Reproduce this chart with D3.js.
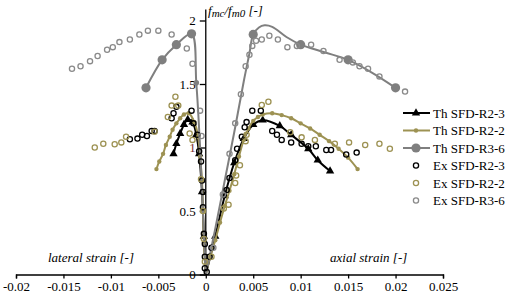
<!DOCTYPE html>
<html>
<head>
<meta charset="utf-8">
<script src="https://cdn.jsdelivr.net/npm/d3@7"></script>
<style>
  body { margin: 0; background: #fff; }
  svg { display: block; font-family: "Liberation Serif", "Times New Roman", serif; }
</style>
</head>
<body>
<div id="chart"></div>
<script>
// tick labels
const xTicks = [-0.02, -0.015, -0.01, -0.005, 0, 0.005, 0.01, 0.015, 0.02, 0.025];
const xTickLabels = ["-0.02", "-0.015", "-0.01", "-0.005", "0", "0.005", "0.01", "0.015", "0.02", "0.025"];
const yTicks = [0, 0.5, 1, 1.5, 2];
const yTickLabels = ["0", "0.5", "1", "1.5", "2"];

// Th SFD-R2-3 (black, triangles)
const thR23Axial = [[0,0],[0.001,0.3],[0.002,0.62],[0.003,0.88],[0.004,1.07],[0.005,1.18],[0.006,1.215],[0.0078,1.17],[0.009,1.1],[0.0108,0.99],[0.0118,0.9],[0.0131,0.815]];
const thR23Lateral = [[0,0],[-0.0002,0.3],[-0.0004,0.65],[-0.0007,0.95],[-0.001,1.1],[-0.0014,1.2],[-0.0019,1.22],[-0.0023,1.18],[-0.0027,1.11],[-0.0031,1.03],[-0.0034,0.95]];

// Th SFD-R2-2 (olive, small dots)
const thR22Axial = [[0,0],[0.0005,0.15],[0.001,0.27],[0.0015,0.41],[0.002,0.54],[0.0025,0.66],[0.003,0.79],[0.0035,0.93],[0.004,1.06],[0.0045,1.15],[0.005,1.21],[0.0055,1.24],[0.006,1.26],[0.007,1.27],[0.008,1.255],[0.009,1.23],[0.01,1.19],[0.011,1.15],[0.012,1.1],[0.013,1.05],[0.014,0.99],[0.015,0.92],[0.016,0.83]];
const thR22Lateral = [[0,0],[-0.0002,0.25],[-0.0003,0.5],[-0.0004,0.74],[-0.0006,0.93],[-0.0008,1.085],[-0.0012,1.2],[-0.0018,1.27],[-0.0023,1.26],[-0.0027,1.23],[-0.0031,1.19],[-0.0035,1.14],[-0.0038,1.085],[-0.0042,1.02],[-0.0045,0.95],[-0.0049,0.89],[-0.0052,0.83]];

// Th SFD-R3-6 (grey, big dots on a few points)
const thR36Axial = [[0,0],[0.001,0.36],[0.002,0.74],[0.003,1.12],[0.004,1.52],[0.0046,1.74],[0.005,1.89],[0.0056,1.945],[0.0062,1.962],[0.007,1.95],[0.0085,1.87],[0.01,1.81],[0.0125,1.75],[0.015,1.69],[0.0175,1.59],[0.02,1.47]];
const thR36AxialMarks = [[0.005,1.89],[0.01,1.81],[0.015,1.69],[0.02,1.47]];
const thR36Lateral = [[0,0],[-0.0003,0.5],[-0.0006,1.0],[-0.001,1.51],[-0.0015,1.895],[-0.0031,1.81],[-0.0046,1.69],[-0.0063,1.47]];
const thR36LateralMarks = [[-0.0015,1.895],[-0.0031,1.81],[-0.0046,1.69],[-0.0063,1.47]];
const thR36SmallMarks = [[-0.001,1.51]];

// Ex SFD-R2-3 (black open circles)
const exR23 = [[0.0001,0.02],[0.0004,0.14],[0.0006,0.21],[0.0022,0.665],[0.0025,0.76],[0.0031,0.9],[0.0033,0.99],[0.0038,1.085],[0.0041,1.16],[0.0043,1.2],[0.0049,1.29],[0.0058,1.29],[0.007,1.13],[0.0075,1.1],[0.008,1.06],[0.009,1.04],[0.0101,1.03],[0.0108,1.01],[0.0116,1.01],[0.0127,0.98],[0.0132,0.98],[0.0148,0.945],[0.0159,0.96],
  [-0.0001,0.05],[-0.0001,0.14],[-0.0001,0.24],[-0.0002,0.32],[-0.0003,0.53],[-0.0003,0.65],[-0.0004,0.74],[-0.0005,0.89],[-0.0007,0.97],[-0.0009,1.1],[-0.0013,1.19],[-0.0015,1.29],[-0.0031,1.32],[-0.0034,1.27],[-0.0036,1.23],[-0.0054,1.13],[-0.0057,1.13],[-0.0062,1.09],[-0.0067,1.1],[-0.0072,1.07],[-0.008,1.065]];

// Ex SFD-R2-2 (olive open circles)
const exR22 = [[0.0006,0.14],[0.0019,0.52],[0.0024,0.55],[0.0031,0.72],[0.0032,0.78],[0.0036,0.86],[0.0042,1.05],[0.0043,1.1],[0.0059,1.335],[0.0066,1.36],[0.0089,1.12],[0.0101,1.08],[0.0115,1.06],[0.0136,1.03],[0.0151,1.04],[0.0168,1.02],[0.0183,1.03],[0.0194,0.99],
  [-0.0001,0.1],[-0.0002,0.28],[-0.0003,0.5],[-0.0005,0.75],[-0.0014,1.06],[-0.0017,1.11],[-0.0029,1.33],[-0.0032,1.4],[-0.0036,1.33],[-0.004,1.24],[-0.0054,1.125],[-0.0084,1.085],[-0.0089,1.04],[-0.0096,1.025],[-0.0108,1.03],[-0.0117,1.0]];

// Ex SFD-R3-6 (grey open circles)
const exR36 = [[0.0008,0.21],[0.0018,0.63],[0.0025,0.95],[0.0031,1.19],[0.0037,1.42],[0.0042,1.64],[0.0046,1.73],[0.0049,1.8],[0.0053,1.84],[0.0059,1.85],[0.0067,1.88],[0.0076,1.85],[0.0086,1.79],[0.0096,1.8],[0.0111,1.81],[0.0124,1.76],[0.0141,1.69],[0.0155,1.67],[0.0162,1.64],[0.0171,1.62],[0.0183,1.56],[0.021,1.44],
  [-0.00045,1.09],[-0.0006,1.29],[-0.0014,1.66],[-0.002,1.78],[-0.0036,1.89],[-0.005,1.92],[-0.0061,1.92],[-0.007,1.89],[-0.008,1.85],[-0.0091,1.83],[-0.0098,1.79],[-0.0104,1.77],[-0.0114,1.72],[-0.0122,1.68],[-0.0132,1.64],[-0.0141,1.62]];

const legendNames = ["Th SFD-R2-3", "Th SFD-R2-2", "Th SFD-R3-6", "Ex SFD-R2-3", "Ex SFD-R2-2", "Ex SFD-R3-6"];

const black = "#000";
const olive = "#9d9253";
const grey = "#7f7f7f";
const greyEx = "#8a8a8a";

const width = 510, height = 298;

const svg = d3.select("#chart").append("svg")
  .attr("width", width)
  .attr("height", height);

const x = d3.scaleLinear().domain([-0.02, 0.025]).range([16, 443]);
const y = d3.scaleLinear().domain([0, 2]).range([274.5, 20.5]);

// x axis
const xAxis = svg.append("g")
  .attr("transform", `translate(0,${y(0)})`)
  .call(d3.axisBottom(x).tickValues(xTicks).tickSize(4).tickSizeOuter(4).tickPadding(3)
    .tickFormat((d, i) => xTickLabels[i]));
xAxis.select(".domain").attr("stroke-width", 1.3);
xAxis.selectAll(".tick line").attr("stroke-width", 1.3);
xAxis.selectAll("text").attr("font-size", 13).attr("font-family", "Liberation Serif").attr("fill", "#000");

// y axis
const yAxis = svg.append("g")
  .attr("transform", `translate(${x(0)},0)`)
  .call(d3.axisLeft(y).tickValues(yTicks).tickSize(6).tickSizeOuter(0).tickPadding(4)
    .tickFormat((d, i) => yTickLabels[i]));
yAxis.select(".domain").remove();
yAxis.selectAll(".tick line").attr("stroke-width", 1.3);
yAxis.selectAll("text").attr("font-size", 13).attr("font-family", "Liberation Serif")
  .attr("fill", d => d === 1 ? "#7a3030" : "#000");
svg.append("line")
  .attr("x1", x(0)).attr("x2", x(0))
  .attr("y1", y(0)).attr("y2", y(2) - 11)
  .attr("stroke", "#000").attr("stroke-width", 1.3);

// axis titles
svg.append("text").attr("x", 48).attr("y", 262)
  .attr("font-size", 13).attr("font-style", "italic").text("lateral strain [-]");
svg.append("text").attr("x", 330).attr("y", 262)
  .attr("font-size", 13).attr("font-style", "italic").text("axial strain [-]");

const yTitle = svg.append("text").attr("x", 208).attr("y", 15)
  .attr("font-size", 13).attr("font-style", "italic");
yTitle.append("tspan").text("f");
yTitle.append("tspan").attr("font-size", 11).attr("dy", 2).text("mc");
yTitle.append("tspan").attr("dy", -2).text("/f");
yTitle.append("tspan").attr("font-size", 11).attr("dy", 2).text("m0");
yTitle.append("tspan").attr("dy", -2).text(" [-]");

const line = d3.line()
  .x(d => x(d[0]))
  .y(d => y(d[1]))
  .curve(d3.curveCatmullRom.alpha(0.5));

const plot = svg.append("g");

function drawLine(data, color, w) {
  plot.append("path")
    .datum(data)
    .attr("d", line)
    .attr("fill", "none")
    .attr("stroke", color)
    .attr("stroke-width", w);
}

function drawDots(data, color, r) {
  plot.append("g").selectAll("circle")
    .data(data)
    .join("circle")
      .attr("cx", d => x(d[0]))
      .attr("cy", d => y(d[1]))
      .attr("r", r)
      .attr("fill", color);
}

function drawTriangles(data) {
  const tri = d3.symbol(d3.symbolTriangle, 30);
  plot.append("g").selectAll("path")
    .data(data)
    .join("path")
      .attr("d", tri)
      .attr("transform", d => `translate(${x(d[0])},${y(d[1])})`)
      .attr("fill", black);
}

function drawOpen(data, color) {
  plot.append("g").selectAll("circle")
    .data(data)
    .join("circle")
      .attr("cx", d => x(d[0]))
      .attr("cy", d => y(d[1]))
      .attr("r", 2.6)
      .attr("fill", "none")
      .attr("stroke", color)
      .attr("stroke-width", 1.3);
}

// theoretical curves
drawLine(thR23Axial, black, 2);
drawLine(thR23Lateral, black, 2);
drawTriangles(thR23Axial.slice(1));
drawTriangles(thR23Lateral.slice(1));

drawLine(thR22Axial, olive, 2);
drawLine(thR22Lateral, olive, 2);
drawDots(thR22Axial.slice(1), olive, 2.2);
drawDots(thR22Lateral.slice(1), olive, 2.2);

drawLine(thR36Axial, grey, 2);
drawLine(thR36Lateral, grey, 2);
drawDots(thR36AxialMarks, grey, 4.6);
drawDots(thR36LateralMarks, grey, 4.6);
drawDots(thR36SmallMarks, grey, 2.8);

// experimental points
drawOpen(exR23, black);
drawOpen(exR22, olive);
drawOpen(exR36, greyEx);

// legend
const legend = svg.append("g");
const legendY = d3.scalePoint().domain(legendNames).range([113, 200.5]);

legendNames.forEach((name, i) => {
  const ly = legendY(name);
  const g = legend.append("g");
  if (i < 3) {
    const color = [black, olive, grey][i];
    g.append("line").attr("x1", 403).attr("x2", 430).attr("y1", ly).attr("y2", ly)
      .attr("stroke", color).attr("stroke-width", 2);
    if (i === 0) {
      g.append("path").attr("d", d3.symbol(d3.symbolTriangle, 30))
        .attr("transform", `translate(416,${ly})`).attr("fill", black);
    } else {
      g.append("circle").attr("cx", 416).attr("cy", ly).attr("r", i === 1 ? 2.2 : 4.6).attr("fill", color);
    }
  } else {
    const color = [black, olive, greyEx][i - 3];
    g.append("circle").attr("cx", 416).attr("cy", ly).attr("r", 2.6)
      .attr("fill", "none").attr("stroke", color).attr("stroke-width", 1.3);
  }
  g.append("text").attr("x", 433).attr("y", ly + 4.5)
    .attr("font-size", 13).text(name);
});
</script>
</body>
</html>
